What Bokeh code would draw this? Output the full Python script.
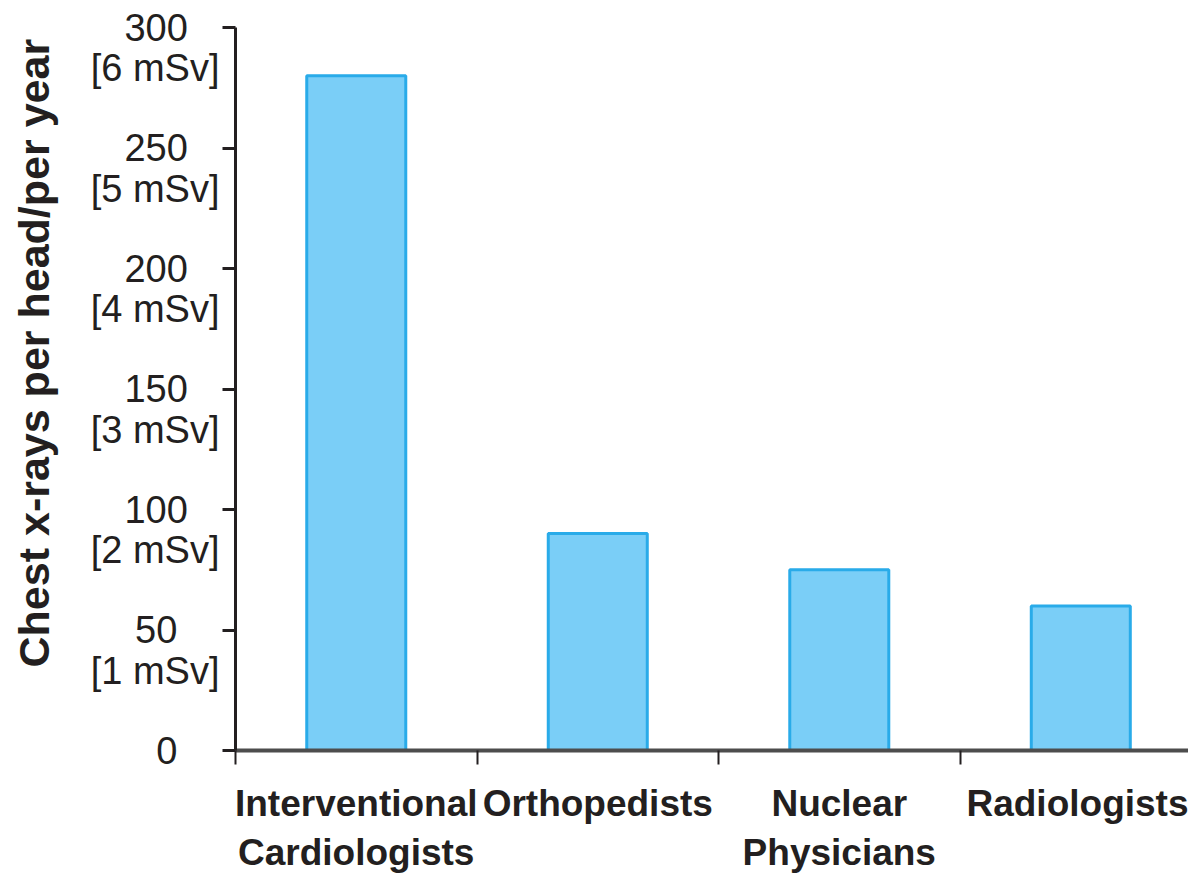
from bokeh.plotting import figure
from bokeh.models import Range1d, FixedTicker, ColumnDataSource
from bokeh.embed import file_html
from bokeh.resources import INLINE

categories = ["Interventional\nCardiologists", "Orthopedists", "Nuclear\nPhysicians", "Radiologists"]
values = [280, 90, 75, 60]
y_ticks = [0, 50, 100, 150, 200, 250, 300]
y_tick_numbers = ["0", "50", "100", "150", "200", "250", "300"]
dose_ticks = [50, 100, 150, 200, 250, 300]
dose_labels = ["[1 mSv]", "[2 mSv]", "[3 mSv]", "[4 mSv]", "[5 mSv]", "[6 mSv]"]
y_title = "Chest x-rays per head/per year"

xs = [i + 0.5 for i in range(len(categories))]
src = ColumnDataSource(dict(x=xs, top=values))

ink = "#231F20"
DOSE_SHIFT = 17  # dose line sits one text line below its tick (in axis units)
NBSP = "\u00a0"

p = figure(width=1188, height=876, output_backend="svg", toolbar_location=None,
           x_range=Range1d(0, 3.946), y_range=Range1d(0, 300),
           min_border_left=235, min_border_right=0, min_border_top=27, min_border_bottom=126)
p.outline_line_color = None
p.xgrid.grid_line_color = None
p.ygrid.grid_line_color = None
p.background_fill_color = "white"
p.border_fill_color = "white"

p.vbar(x="x", top="top", bottom=0, width=0.41, source=src,
       fill_color="#7ACEF7", line_color="#29ABE9", line_width=3)

# x axis: labels at category centres, tick marks at category boundaries
p.xaxis.ticker = FixedTicker(ticks=xs, minor_ticks=[0, 1, 2, 3])
p.xaxis.major_label_overrides = {x: c for x, c in zip(xs, categories)}
p.xaxis.major_tick_out = 0
p.xaxis.major_tick_in = 0
p.xaxis.minor_tick_out = 14
p.xaxis.minor_tick_in = 0
p.xaxis.minor_tick_line_color = ink
p.xaxis.minor_tick_line_width = 2
p.xaxis.axis_line_color = "#4D4D4D"
p.xaxis.axis_line_width = 4
p.xaxis.major_label_text_font = "Liberation Sans"
p.xaxis.major_label_text_font_style = "bold"
p.xaxis.major_label_text_font_size = "37px"
p.xaxis.major_label_text_color = ink
p.xaxis.major_label_standoff = 18

# y axis: tick marks as minor ticks at values; labels = value (at tick) and dose (one line below)
label_pos = list(y_ticks) + [t - DOSE_SHIFT for t in dose_ticks]
overrides = {}
for t, s in zip(y_ticks, y_tick_numbers):
    overrides[t] = s + NBSP * (3 if len(s) == 3 else 4)
for t, s in zip(dose_ticks, dose_labels):
    overrides[t - DOSE_SHIFT] = s
p.yaxis.ticker = FixedTicker(ticks=label_pos, minor_ticks=y_ticks)
p.yaxis.major_label_overrides = overrides
p.yaxis.major_tick_out = 0
p.yaxis.major_tick_in = 0
p.yaxis.minor_tick_out = 13
p.yaxis.minor_tick_in = 0
p.yaxis.minor_tick_line_color = ink
p.yaxis.minor_tick_line_width = 3
p.yaxis.axis_line_color = ink
p.yaxis.axis_line_width = 3
p.yaxis.major_label_text_font = "Liberation Sans"
p.yaxis.major_label_text_font_size = "38px"
p.yaxis.major_label_text_color = ink
p.yaxis.major_label_standoff = 3
# leading padding nudges the rotated title upward, as in the original
p.yaxis.axis_label = NBSP * 6 + y_title
p.yaxis.axis_label_text_font = "Liberation Sans"
p.yaxis.axis_label_text_font_style = "bold"
p.yaxis.axis_label_text_font_size = "43px"
p.yaxis.axis_label_text_color = ink
p.yaxis.axis_label_standoff = 30

open("out.html", "w").write(file_html(p, INLINE))
